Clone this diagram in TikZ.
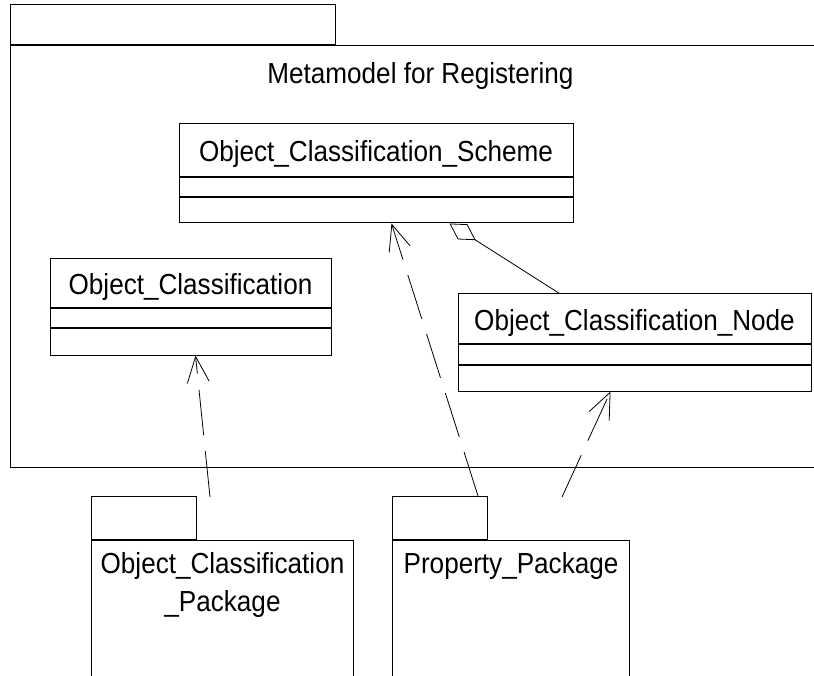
\documentclass[tikz,border=0pt]{standalone}
\usepackage{fontspec}
\setmainfont[FakeStretch=0.9]{Liberation Sans}
\usepackage{tikz}
\usetikzlibrary{arrows.meta,positioning}
\newcommand{\umlfont}{\fontsize{29pt}{38pt}\selectfont}

\tikzset{
	umlname/.style={draw, line width=1pt, fill=white, inner sep=0pt, text height=23pt, text depth=0pt, font=\umlfont},
	umlpart/.style={draw, line width=1pt, fill=white, inner sep=0pt, below=0pt of #1},
	pkgbody/.style={draw, line width=1pt, inner sep=0pt, anchor=north west},
	pkgtab/.style={draw, line width=1pt, inner sep=0pt, anchor=south west},
	pkglabel/.style={inner sep=0pt, align=center, font=\umlfont},
	depends/.style={line width=0.8pt, dash pattern=on 46pt off 16pt, -{Straight Barb[length=26pt, width=22pt]}},
	aggreg/.style={line width=0.8pt, -{Diamond[open, length=31pt, width=18pt]}}
}

\begin{document}
\begin{tikzpicture}[x=1pt, y=-1pt]
		%%%%% START %%%%%
		\useasboundingbox (0,0) rectangle (814,676);
		\clip (0,0) rectangle (814,676);

		% outer package
		\node[pkgbody, minimum width=820pt, minimum height=422pt] (meta) at (10,45) {};
		\node[pkgtab, minimum width=325pt, minimum height=40pt] (meta-tab) at (meta.north west) {};
		\node[pkglabel, below=17pt of meta.north] (meta-label) {Metamodel for Registering};

		% classes
		\node[umlname, minimum width=394pt, minimum height=53pt] (ocs) at (376,150.5) {Object\_Classification\_Scheme};
		\node[umlpart=ocs, minimum width=394pt, minimum height=19pt] (ocs-attr) {};
		\node[umlpart=ocs-attr, minimum width=394pt, minimum height=25pt] (ocs-ops) {};

		\node[umlname, minimum width=281pt, minimum height=49pt] (oc) at (190.5,283.5) {Object\_Classification};
		\node[umlpart=oc, minimum width=281pt, minimum height=19pt] (oc-attr) {};
		\node[umlpart=oc-attr, minimum width=281pt, minimum height=26pt] (oc-ops) {};

		\node[umlname, minimum width=353pt, minimum height=50pt] (ocn) at (634.5,319) {Object\_Classification\_Node};
		\node[umlpart=ocn, minimum width=353pt, minimum height=19pt] (ocn-attr) {};
		\node[umlpart=ocn-attr, minimum width=353pt, minimum height=26pt] (ocn-ops) {};

		% packages below
		\node[pkgbody, minimum width=262pt, minimum height=160pt] (ocp) at (91,540) {};
		\node[pkgtab, minimum width=105pt, minimum height=43pt] (ocp-tab) at (ocp.north west) {};
		\node[pkglabel, below=12pt of ocp.north] (ocp-label) {Object\_Classification\\\_Package};

		\node[pkgbody, minimum width=237pt, minimum height=160pt] (pp) at (392,540) {};
		\node[pkgtab, minimum width=95pt, minimum height=43pt] (pp-tab) at (pp.north west) {};
		\node[pkglabel, below=12pt of pp.north] (pp-label) {Property\_Package};

		\coordinate (ocp-dep) at (210,497);
		\coordinate (pp-dep) at (562,497);

		% connectors
		\draw[aggreg] ([xshift=102pt]ocn.north west) -- ([xshift=271pt]ocs-ops.south west);
		\draw[depends] (ocp-dep) -- ([xshift=146pt]oc-ops.south west);
		\draw[depends] ([xshift=-10pt]pp-tab.north east) -- ([xshift=213pt]ocs-ops.south west);
		\draw[depends] (pp-dep) -- ([xshift=153pt]ocn-ops.south west);
		%%%%% END %%%%%
	\end{tikzpicture}
\end{document}
